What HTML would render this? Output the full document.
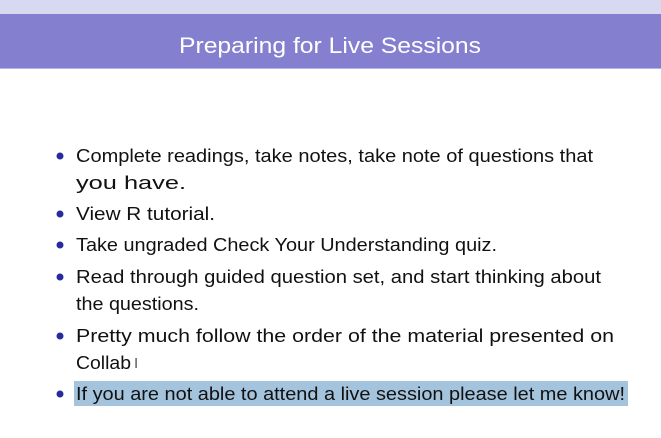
<!DOCTYPE html>
<html><head><meta charset="utf-8"><style>
html,body{margin:0;padding:0;width:661px;height:438px;overflow:hidden;background:#fff}
svg{display:block}
text{font-family:"Liberation Sans",sans-serif;font-size:18px;fill:#111}
</style></head><body>
<svg width="661" height="438">
<rect x="0" y="0" width="661" height="14" fill="#d8d8f0"/>
<rect x="0" y="14" width="661" height="54" fill="#8480cf"/>
<rect x="0" y="68" width="661" height="1" fill="#b5b3e0"/>
<text x="330" y="53" text-anchor="middle" style="font-size:22px;fill:#fff" textLength="302" lengthAdjust="spacingAndGlyphs">Preparing for Live Sessions</text>
<rect x="74" y="381" width="554" height="25" fill="#a4c4dd"/>
<g fill="#2a2aa0">
<circle cx="60" cy="156" r="3.5"/><circle cx="60" cy="214" r="3.5"/><circle cx="60" cy="245" r="3.5"/>
<circle cx="60" cy="277" r="3.5"/><circle cx="60" cy="336" r="3.5"/><circle cx="60" cy="394" r="3.5"/>
</g>
<text x="76" y="162" textLength="517" lengthAdjust="spacingAndGlyphs">Complete readings, take notes, take note of questions that</text>
<text x="76" y="189" textLength="110" lengthAdjust="spacingAndGlyphs">you have.</text>
<text x="76" y="220" textLength="139" lengthAdjust="spacingAndGlyphs">View R tutorial.</text>
<text x="76" y="251" textLength="421" lengthAdjust="spacingAndGlyphs">Take ungraded Check Your Understanding quiz.</text>
<text x="76" y="283" textLength="525" lengthAdjust="spacingAndGlyphs">Read through guided question set, and start thinking about</text>
<text x="76" y="310" textLength="123" lengthAdjust="spacingAndGlyphs">the questions.</text>
<text x="76" y="342" textLength="538" lengthAdjust="spacingAndGlyphs">Pretty much follow the order of the material presented on</text>
<text x="76" y="369" textLength="55" lengthAdjust="spacingAndGlyphs">Collab</text>
<text x="134" y="368" style="font-size:15px;fill:#555">I</text>
<text x="76" y="400" textLength="549" lengthAdjust="spacingAndGlyphs">If you are not able to attend a live session please let me know!</text>
</svg>
</body></html>
